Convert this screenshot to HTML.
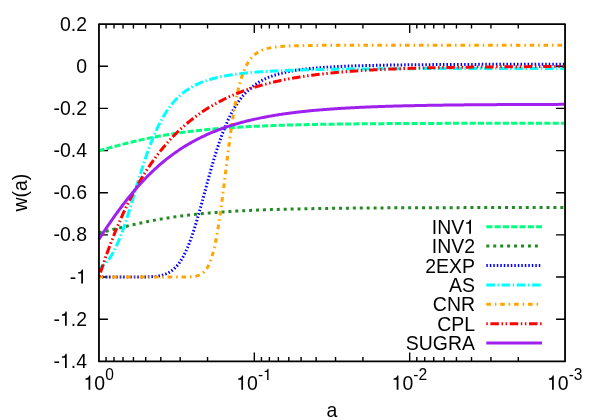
<!DOCTYPE html><html><head><meta charset="utf-8"><style>html,body{margin:0;padding:0;background:#fff;}svg{display:block;will-change:transform;}text{font-family:"Liberation Sans",sans-serif;fill:#000;font-kerning:none;}</style></head><body>
<svg width="598" height="420" viewBox="0 0 598 420">
<rect width="598" height="420" fill="#fff"/>
<path d="M98.95 66.26h9M565.05 66.26h-9M98.95 108.42h9M565.05 108.42h-9M98.95 150.59h9M565.05 150.59h-9M98.95 192.75h9M565.05 192.75h-9M98.95 234.91h9M565.05 234.91h-9M98.95 277.07h9M565.05 277.07h-9M98.95 319.24h9M565.05 319.24h-9M207.55 361.4v-4.5M207.55 24.1v4.5M180.19 361.4v-4.5M180.19 24.1v4.5M160.78 361.4v-4.5M160.78 24.1v4.5M145.72 361.4v-4.5M145.72 24.1v4.5M133.42 361.4v-4.5M133.42 24.1v4.5M123.02 361.4v-4.5M123.02 24.1v4.5M114.01 361.4v-4.5M114.01 24.1v4.5M106.06 361.4v-4.5M106.06 24.1v4.5M254.32 361.4v-9M254.32 24.1v9M362.91 361.4v-4.5M362.91 24.1v4.5M335.55 361.4v-4.5M335.55 24.1v4.5M316.14 361.4v-4.5M316.14 24.1v4.5M301.09 361.4v-4.5M301.09 24.1v4.5M288.78 361.4v-4.5M288.78 24.1v4.5M278.38 361.4v-4.5M278.38 24.1v4.5M269.37 361.4v-4.5M269.37 24.1v4.5M261.43 361.4v-4.5M261.43 24.1v4.5M409.68 361.4v-9M409.68 24.1v9M518.28 361.4v-4.5M518.28 24.1v4.5M490.92 361.4v-4.5M490.92 24.1v4.5M471.51 361.4v-4.5M471.51 24.1v4.5M456.45 361.4v-4.5M456.45 24.1v4.5M444.15 361.4v-4.5M444.15 24.1v4.5M433.75 361.4v-4.5M433.75 24.1v4.5M424.74 361.4v-4.5M424.74 24.1v4.5M416.79 361.4v-4.5M416.79 24.1v4.5" stroke="#000" stroke-width="1.4" fill="none"/>
<path d="M565.05 123.21L563.88 123.21L562.72 123.21L561.55 123.21L560.39 123.22L559.22 123.22L558.06 123.22L556.89 123.22L555.73 123.22L554.56 123.22L553.40 123.22L552.23 123.22L551.07 123.22L549.90 123.22L548.74 123.22L547.57 123.22L546.41 123.22L545.24 123.22L544.08 123.22L542.91 123.23L541.75 123.23L540.58 123.23L539.41 123.23L538.25 123.23L537.08 123.23L535.92 123.23L534.75 123.23L533.59 123.23L532.42 123.23L531.26 123.23L530.09 123.23L528.93 123.24L527.76 123.24L526.60 123.24L525.43 123.24L524.27 123.24L523.10 123.24L521.94 123.24L520.77 123.24L519.61 123.24L518.44 123.24L517.27 123.25L516.11 123.25L514.94 123.25L513.78 123.25L512.61 123.25L511.45 123.25L510.28 123.25L509.12 123.25L507.95 123.25L506.79 123.26L505.62 123.26L504.46 123.26L503.29 123.26L502.13 123.26L500.96 123.26L499.80 123.26L498.63 123.27L497.47 123.27L496.30 123.27L495.13 123.27L493.97 123.27L492.80 123.27L491.64 123.27L490.47 123.28L489.31 123.28L488.14 123.28L486.98 123.28L485.81 123.28L484.65 123.28L483.48 123.29L482.32 123.29L481.15 123.29L479.99 123.29L478.82 123.29L477.66 123.30L476.49 123.30L475.33 123.30L474.16 123.30L473.00 123.30L471.83 123.31L470.66 123.31L469.50 123.31L468.33 123.31L467.17 123.31L466.00 123.32L464.84 123.32L463.67 123.32L462.51 123.32L461.34 123.33L460.18 123.33L459.01 123.33L457.85 123.33L456.68 123.34L455.52 123.34L454.35 123.34L453.19 123.35L452.02 123.35L450.86 123.35L449.69 123.35L448.52 123.36L447.36 123.36L446.19 123.36L445.03 123.37L443.86 123.37L442.70 123.37L441.53 123.38L440.37 123.38L439.20 123.38L438.04 123.39L436.87 123.39L435.71 123.39L434.54 123.40L433.38 123.40L432.21 123.40L431.05 123.41L429.88 123.41L428.72 123.42L427.55 123.42L426.39 123.43L425.22 123.43L424.05 123.43L422.89 123.44L421.72 123.44L420.56 123.45L419.39 123.45L418.23 123.46L417.06 123.46L415.90 123.47L414.73 123.47L413.57 123.48L412.40 123.48L411.24 123.49L410.07 123.49L408.91 123.50L407.74 123.50L406.58 123.51L405.41 123.51L404.25 123.52L403.08 123.53L401.91 123.53L400.75 123.54L399.58 123.54L398.42 123.55L397.25 123.56L396.09 123.56L394.92 123.57L393.76 123.58L392.59 123.58L391.43 123.59L390.26 123.60L389.10 123.60L387.93 123.61L386.77 123.62L385.60 123.63L384.44 123.64L383.27 123.64L382.11 123.65L380.94 123.66L379.78 123.67L378.61 123.68L377.44 123.68L376.28 123.69L375.11 123.70L373.95 123.71L372.78 123.72L371.62 123.73L370.45 123.74L369.29 123.75L368.12 123.76L366.96 123.77L365.79 123.78L364.63 123.79L363.46 123.80L362.30 123.81L361.13 123.82L359.97 123.83L358.80 123.85L357.64 123.86L356.47 123.87L355.30 123.88L354.14 123.89L352.97 123.91L351.81 123.92L350.64 123.93L349.48 123.94L348.31 123.96L347.15 123.97L345.98 123.98L344.82 124.00L343.65 124.01L342.49 124.03L341.32 124.04L340.16 124.06L338.99 124.07L337.83 124.09L336.66 124.10L335.50 124.12L334.33 124.14L333.17 124.15L332.00 124.17L330.83 124.19L329.67 124.21L328.50 124.22L327.34 124.24L326.17 124.26L325.01 124.28L323.84 124.30L322.68 124.32L321.51 124.34L320.35 124.36L319.18 124.38L318.02 124.40L316.85 124.42L315.69 124.44L314.52 124.46L313.36 124.49L312.19 124.51L311.03 124.53L309.86 124.56L308.69 124.58L307.53 124.61L306.36 124.63L305.20 124.66L304.03 124.68L302.87 124.71L301.70 124.74L300.54 124.76L299.37 124.79L298.21 124.82L297.04 124.85L295.88 124.88L294.71 124.91L293.55 124.94L292.38 124.97L291.22 125.00L290.05 125.03L288.89 125.06L287.72 125.10L286.56 125.13L285.39 125.16L284.22 125.20L283.06 125.23L281.89 125.27L280.73 125.31L279.56 125.34L278.40 125.38L277.23 125.42L276.07 125.46L274.90 125.50L273.74 125.54L272.57 125.58L271.41 125.63L270.24 125.67L269.08 125.71L267.91 125.76L266.75 125.80L265.58 125.85L264.42 125.89L263.25 125.94L262.08 125.99L260.92 126.04L259.75 126.09L258.59 126.14L257.42 126.19L256.26 126.25L255.09 126.30L253.93 126.36L252.76 126.41L251.60 126.47L250.43 126.53L249.27 126.59L248.10 126.65L246.94 126.71L245.77 126.77L244.61 126.83L243.44 126.90L242.28 126.96L241.11 127.03L239.95 127.10L238.78 127.17L237.61 127.24L236.45 127.31L235.28 127.38L234.12 127.45L232.95 127.53L231.79 127.61L230.62 127.68L229.46 127.76L228.29 127.84L227.13 127.93L225.96 128.01L224.80 128.10L223.63 128.18L222.47 128.27L221.30 128.36L220.14 128.45L218.97 128.54L217.81 128.64L216.64 128.73L215.47 128.83L214.31 128.93L213.14 129.03L211.98 129.14L210.81 129.24L209.65 129.35L208.48 129.46L207.32 129.57L206.15 129.68L204.99 129.79L203.82 129.91L202.66 130.03L201.49 130.15L200.33 130.27L199.16 130.39L198.00 130.52L196.83 130.65L195.67 130.78L194.50 130.91L193.34 131.05L192.17 131.19L191.00 131.33L189.84 131.47L188.67 131.61L187.51 131.76L186.34 131.91L185.18 132.06L184.01 132.21L182.85 132.37L181.68 132.53L180.52 132.69L179.35 132.86L178.19 133.02L177.02 133.19L175.86 133.37L174.69 133.54L173.53 133.72L172.36 133.90L171.20 134.09L170.03 134.27L168.87 134.46L167.70 134.65L166.53 134.85L165.37 135.05L164.20 135.25L163.04 135.45L161.87 135.66L160.71 135.87L159.54 136.08L158.38 136.30L157.21 136.52L156.05 136.74L154.88 136.97L153.72 137.19L152.55 137.43L151.39 137.66L150.22 137.90L149.06 138.14L147.89 138.38L146.73 138.63L145.56 138.88L144.39 139.13L143.23 139.39L142.06 139.65L140.90 139.91L139.73 140.17L138.57 140.44L137.40 140.71L136.24 140.98L135.07 141.26L133.91 141.54L132.74 141.82L131.58 142.10L130.41 142.38L129.25 142.67L128.08 142.96L126.92 143.25L125.75 143.55L124.59 143.85L123.42 144.14L122.25 144.44L121.09 144.75L119.92 145.05L118.76 145.35L117.59 145.66L116.43 145.97L115.26 146.27L114.10 146.58L112.93 146.89L111.77 147.20L110.60 147.51L109.44 147.82L108.27 148.13L107.11 148.44L105.94 148.75L104.78 149.06L103.61 149.37L102.45 149.67L101.28 149.98L100.12 150.28L98.95 150.59" stroke="#00ff7f" stroke-width="3" fill="none" stroke-dasharray="6.1 2.2" stroke-dashoffset="1.95"/>
<path d="M486.3 226.70H542.0" stroke="#00ff7f" stroke-width="3" fill="none" stroke-dasharray="6.1 2.2"/>
<text transform="translate(431.74,233.85) scale(0.973,1)" font-size="20">INV<tspan visibility="hidden">1</tspan></text><path d="M470.97 233.85L469.22 233.85L469.22 223.75L466.13 223.75L466.13 222.53C468.77 222.21 469.28 221.73 469.82 219.67L470.97 219.67Z" fill="#000"/>
<path d="M565.05 207.53L563.88 207.53L562.72 207.53L561.55 207.53L560.39 207.54L559.22 207.54L558.06 207.54L556.89 207.54L555.73 207.54L554.56 207.54L553.40 207.54L552.23 207.54L551.07 207.54L549.90 207.54L548.74 207.54L547.57 207.54L546.41 207.54L545.24 207.54L544.08 207.54L542.91 207.54L541.75 207.54L540.58 207.54L539.41 207.55L538.25 207.55L537.08 207.55L535.92 207.55L534.75 207.55L533.59 207.55L532.42 207.55L531.26 207.55L530.09 207.55L528.93 207.55L527.76 207.55L526.60 207.55L525.43 207.55L524.27 207.56L523.10 207.56L521.94 207.56L520.77 207.56L519.61 207.56L518.44 207.56L517.27 207.56L516.11 207.56L514.94 207.56L513.78 207.56L512.61 207.56L511.45 207.57L510.28 207.57L509.12 207.57L507.95 207.57L506.79 207.57L505.62 207.57L504.46 207.57L503.29 207.57L502.13 207.57L500.96 207.57L499.80 207.58L498.63 207.58L497.47 207.58L496.30 207.58L495.13 207.58L493.97 207.58L492.80 207.58L491.64 207.59L490.47 207.59L489.31 207.59L488.14 207.59L486.98 207.59L485.81 207.59L484.65 207.59L483.48 207.60L482.32 207.60L481.15 207.60L479.99 207.60L478.82 207.60L477.66 207.60L476.49 207.60L475.33 207.61L474.16 207.61L473.00 207.61L471.83 207.61L470.66 207.61L469.50 207.62L468.33 207.62L467.17 207.62L466.00 207.62L464.84 207.62L463.67 207.63L462.51 207.63L461.34 207.63L460.18 207.63L459.01 207.63L457.85 207.64L456.68 207.64L455.52 207.64L454.35 207.64L453.19 207.65L452.02 207.65L450.86 207.65L449.69 207.65L448.52 207.66L447.36 207.66L446.19 207.66L445.03 207.66L443.86 207.67L442.70 207.67L441.53 207.67L440.37 207.67L439.20 207.68L438.04 207.68L436.87 207.68L435.71 207.69L434.54 207.69L433.38 207.69L432.21 207.70L431.05 207.70L429.88 207.70L428.72 207.71L427.55 207.71L426.39 207.71L425.22 207.72L424.05 207.72L422.89 207.72L421.72 207.73L420.56 207.73L419.39 207.74L418.23 207.74L417.06 207.74L415.90 207.75L414.73 207.75L413.57 207.76L412.40 207.76L411.24 207.76L410.07 207.77L408.91 207.77L407.74 207.78L406.58 207.78L405.41 207.79L404.25 207.79L403.08 207.80L401.91 207.80L400.75 207.81L399.58 207.81L398.42 207.82L397.25 207.82L396.09 207.83L394.92 207.84L393.76 207.84L392.59 207.85L391.43 207.85L390.26 207.86L389.10 207.87L387.93 207.87L386.77 207.88L385.60 207.88L384.44 207.89L383.27 207.90L382.11 207.91L380.94 207.91L379.78 207.92L378.61 207.93L377.44 207.93L376.28 207.94L375.11 207.95L373.95 207.96L372.78 207.96L371.62 207.97L370.45 207.98L369.29 207.99L368.12 208.00L366.96 208.01L365.79 208.01L364.63 208.02L363.46 208.03L362.30 208.04L361.13 208.05L359.97 208.06L358.80 208.07L357.64 208.08L356.47 208.09L355.30 208.10L354.14 208.11L352.97 208.12L351.81 208.13L350.64 208.14L349.48 208.16L348.31 208.17L347.15 208.18L345.98 208.19L344.82 208.20L343.65 208.21L342.49 208.23L341.32 208.24L340.16 208.25L338.99 208.27L337.83 208.28L336.66 208.29L335.50 208.31L334.33 208.32L333.17 208.33L332.00 208.35L330.83 208.36L329.67 208.38L328.50 208.39L327.34 208.41L326.17 208.43L325.01 208.44L323.84 208.46L322.68 208.48L321.51 208.49L320.35 208.51L319.18 208.53L318.02 208.55L316.85 208.56L315.69 208.58L314.52 208.60L313.36 208.62L312.19 208.64L311.03 208.66L309.86 208.68L308.69 208.70L307.53 208.72L306.36 208.75L305.20 208.77L304.03 208.79L302.87 208.81L301.70 208.84L300.54 208.86L299.37 208.88L298.21 208.91L297.04 208.93L295.88 208.96L294.71 208.98L293.55 209.01L292.38 209.04L291.22 209.06L290.05 209.09L288.89 209.12L287.72 209.15L286.56 209.18L285.39 209.21L284.22 209.24L283.06 209.27L281.89 209.30L280.73 209.33L279.56 209.37L278.40 209.40L277.23 209.43L276.07 209.47L274.90 209.50L273.74 209.54L272.57 209.58L271.41 209.61L270.24 209.65L269.08 209.69L267.91 209.73L266.75 209.77L265.58 209.81L264.42 209.85L263.25 209.89L262.08 209.93L260.92 209.98L259.75 210.02L258.59 210.07L257.42 210.11L256.26 210.16L255.09 210.21L253.93 210.26L252.76 210.31L251.60 210.36L250.43 210.41L249.27 210.46L248.10 210.51L246.94 210.57L245.77 210.62L244.61 210.68L243.44 210.74L242.28 210.80L241.11 210.86L239.95 210.92L238.78 210.98L237.61 211.04L236.45 211.10L235.28 211.17L234.12 211.24L232.95 211.30L231.79 211.37L230.62 211.44L229.46 211.52L228.29 211.59L227.13 211.66L225.96 211.74L224.80 211.82L223.63 211.89L222.47 211.97L221.30 212.05L220.14 212.14L218.97 212.22L217.81 212.31L216.64 212.40L215.47 212.48L214.31 212.58L213.14 212.67L211.98 212.76L210.81 212.86L209.65 212.96L208.48 213.06L207.32 213.16L206.15 213.26L204.99 213.37L203.82 213.47L202.66 213.58L201.49 213.69L200.33 213.81L199.16 213.92L198.00 214.04L196.83 214.16L195.67 214.28L194.50 214.40L193.34 214.53L192.17 214.66L191.00 214.79L189.84 214.92L188.67 215.06L187.51 215.19L186.34 215.33L185.18 215.48L184.01 215.62L182.85 215.77L181.68 215.92L180.52 216.07L179.35 216.23L178.19 216.39L177.02 216.55L175.86 216.71L174.69 216.88L173.53 217.05L172.36 217.22L171.20 217.39L170.03 217.57L168.87 217.75L167.70 217.93L166.53 218.12L165.37 218.31L164.20 218.50L163.04 218.70L161.87 218.90L160.71 219.10L159.54 219.30L158.38 219.51L157.21 219.72L156.05 219.93L154.88 220.15L153.72 220.37L152.55 220.59L151.39 220.82L150.22 221.05L149.06 221.28L147.89 221.51L146.73 221.75L145.56 221.99L144.39 222.23L143.23 222.48L142.06 222.73L140.90 222.98L139.73 223.23L138.57 223.49L137.40 223.75L136.24 224.01L135.07 224.27L133.91 224.54L132.74 224.80L131.58 225.07L130.41 225.35L129.25 225.62L128.08 225.89L126.92 226.17L125.75 226.45L124.59 226.73L123.42 227.01L122.25 227.29L121.09 227.57L119.92 227.85L118.76 228.14L117.59 228.42L116.43 228.70L115.26 228.98L114.10 229.27L112.93 229.55L111.77 229.83L110.60 230.11L109.44 230.39L108.27 230.67L107.11 230.94L105.94 231.21L104.78 231.49L103.61 231.76L102.45 232.02L101.28 232.29L100.12 232.55L98.95 232.80" stroke="#228b22" stroke-width="3" fill="none" stroke-dasharray="3 3.916" stroke-dashoffset="5.18"/>
<path d="M486.3 246.10H541.0" stroke="#228b22" stroke-width="3" fill="none" stroke-dasharray="3 3.94"/>
<text transform="translate(431.74,253.25) scale(0.973,1)" font-size="20">INV2</text>
<path d="M565.05 64.21L563.88 64.22L562.72 64.22L561.55 64.22L560.39 64.22L559.22 64.22L558.06 64.22L556.89 64.22L555.73 64.22L554.56 64.22L553.40 64.23L552.23 64.23L551.07 64.23L549.90 64.23L548.74 64.23L547.57 64.23L546.41 64.23L545.24 64.23L544.08 64.24L542.91 64.24L541.75 64.24L540.58 64.24L539.41 64.24L538.25 64.24L537.08 64.25L535.92 64.25L534.75 64.25L533.59 64.25L532.42 64.25L531.26 64.25L530.09 64.26L528.93 64.26L527.76 64.26L526.60 64.26L525.43 64.26L524.27 64.26L523.10 64.27L521.94 64.27L520.77 64.27L519.61 64.27L518.44 64.27L517.27 64.28L516.11 64.28L514.94 64.28L513.78 64.28L512.61 64.29L511.45 64.29L510.28 64.29L509.12 64.29L507.95 64.30L506.79 64.30L505.62 64.30L504.46 64.30L503.29 64.31L502.13 64.31L500.96 64.31L499.80 64.31L498.63 64.32L497.47 64.32L496.30 64.32L495.13 64.33L493.97 64.33L492.80 64.33L491.64 64.34L490.47 64.34L489.31 64.34L488.14 64.35L486.98 64.35L485.81 64.35L484.65 64.36L483.48 64.36L482.32 64.36L481.15 64.37L479.99 64.37L478.82 64.37L477.66 64.38L476.49 64.38L475.33 64.39L474.16 64.39L473.00 64.40L471.83 64.40L470.66 64.40L469.50 64.41L468.33 64.41L467.17 64.42L466.00 64.42L464.84 64.43L463.67 64.43L462.51 64.44L461.34 64.44L460.18 64.45L459.01 64.45L457.85 64.46L456.68 64.47L455.52 64.47L454.35 64.48L453.19 64.48L452.02 64.49L450.86 64.50L449.69 64.50L448.52 64.51L447.36 64.51L446.19 64.52L445.03 64.53L443.86 64.54L442.70 64.54L441.53 64.55L440.37 64.56L439.20 64.56L438.04 64.57L436.87 64.58L435.71 64.59L434.54 64.60L433.38 64.60L432.21 64.61L431.05 64.62L429.88 64.63L428.72 64.64L427.55 64.65L426.39 64.66L425.22 64.67L424.05 64.68L422.89 64.69L421.72 64.70L420.56 64.71L419.39 64.72L418.23 64.73L417.06 64.74L415.90 64.75L414.73 64.76L413.57 64.78L412.40 64.79L411.24 64.80L410.07 64.81L408.91 64.82L407.74 64.84L406.58 64.85L405.41 64.86L404.25 64.88L403.08 64.89L401.91 64.91L400.75 64.92L399.58 64.94L398.42 64.95L397.25 64.97L396.09 64.99L394.92 65.00L393.76 65.02L392.59 65.04L391.43 65.05L390.26 65.07L389.10 65.09L387.93 65.11L386.77 65.13L385.60 65.15L384.44 65.17L383.27 65.19L382.11 65.21L380.94 65.23L379.78 65.26L378.61 65.28L377.44 65.30L376.28 65.33L375.11 65.35L373.95 65.38L372.78 65.40L371.62 65.43L370.45 65.45L369.29 65.48L368.12 65.51L366.96 65.54L365.79 65.57L364.63 65.60L363.46 65.63L362.30 65.66L361.13 65.70L359.97 65.73L358.80 65.76L357.64 65.80L356.47 65.84L355.30 65.87L354.14 65.91L352.97 65.95L351.81 65.99L350.64 66.03L349.48 66.07L348.31 66.12L347.15 66.16L345.98 66.21L344.82 66.26L343.65 66.30L342.49 66.35L341.32 66.41L340.16 66.46L338.99 66.51L337.83 66.57L336.66 66.63L335.50 66.69L334.33 66.75L333.17 66.81L332.00 66.87L330.83 66.94L329.67 67.01L328.50 67.08L327.34 67.15L326.17 67.23L325.01 67.30L323.84 67.38L322.68 67.47L321.51 67.55L320.35 67.64L319.18 67.73L318.02 67.82L316.85 67.92L315.69 68.02L314.52 68.12L313.36 68.22L312.19 68.33L311.03 68.45L309.86 68.56L308.69 68.68L307.53 68.81L306.36 68.94L305.20 69.07L304.03 69.21L302.87 69.36L301.70 69.51L300.54 69.66L299.37 69.82L298.21 69.99L297.04 70.16L295.88 70.34L294.71 70.52L293.55 70.72L292.38 70.92L291.22 71.12L290.05 71.34L288.89 71.56L287.72 71.80L286.56 72.04L285.39 72.29L284.22 72.56L283.06 72.83L281.89 73.12L280.73 73.41L279.56 73.72L278.40 74.05L277.23 74.38L276.07 74.73L274.90 75.10L273.74 75.48L272.57 75.88L271.41 76.30L270.24 76.74L269.08 77.20L267.91 77.67L266.75 78.17L265.58 78.70L264.42 79.25L263.25 79.82L262.08 80.42L260.92 81.05L259.75 81.71L258.59 82.40L257.42 83.13L256.26 83.89L255.09 84.69L253.93 85.53L252.76 86.41L251.60 87.33L250.43 88.31L249.27 89.33L248.10 90.40L246.94 91.53L245.77 92.71L244.61 93.95L243.44 95.26L242.28 96.64L241.11 98.08L239.95 99.60L238.78 101.19L237.61 102.87L236.45 104.63L235.28 106.47L234.12 108.41L232.95 110.45L231.79 112.58L230.62 114.81L229.46 117.15L228.29 119.60L227.13 122.16L225.96 124.84L224.80 127.63L223.63 130.54L222.47 133.56L221.30 136.71L220.14 139.97L218.97 143.36L217.81 146.85L216.64 150.46L215.47 154.18L214.31 158.01L213.14 161.92L211.98 165.93L210.81 170.02L209.65 174.17L208.48 178.38L207.32 182.64L206.15 186.93L204.99 191.24L203.82 195.54L202.66 199.83L201.49 204.10L200.33 208.31L199.16 212.46L198.00 216.53L196.83 220.51L195.67 224.38L194.50 228.13L193.34 231.75L192.17 235.23L191.00 238.55L189.84 241.72L188.67 244.72L187.51 247.56L186.34 250.23L185.18 252.73L184.01 255.06L182.85 257.23L181.68 259.24L180.52 261.09L179.35 262.79L178.19 264.35L177.02 265.77L175.86 267.05L174.69 268.22L173.53 269.28L172.36 270.22L171.20 271.07L170.03 271.83L168.87 272.51L167.70 273.11L166.53 273.64L165.37 274.11L164.20 274.52L163.04 274.88L161.87 275.20L160.71 275.47L159.54 275.71L158.38 275.92L157.21 276.09L156.05 276.25L154.88 276.38L153.72 276.49L152.55 276.59L151.39 276.67L150.22 276.74L149.06 276.80L147.89 276.84L146.73 276.89L145.56 276.92L144.39 276.95L143.23 276.97L142.06 276.99L140.90 277.01L139.73 277.02L138.57 277.03L137.40 277.04L136.24 277.05L135.07 277.05L133.91 277.06L132.74 277.06L131.58 277.06L130.41 277.07L129.25 277.07L128.08 277.07L126.92 277.07L125.75 277.07L124.59 277.07L123.42 277.07L122.25 277.07L121.09 277.07L119.92 277.07L118.76 277.07L117.59 277.07L116.43 277.07L115.26 277.07L114.10 277.07L112.93 277.07L111.77 277.07L110.60 277.07L109.44 277.07L108.27 277.07L107.11 277.07L105.94 277.07L104.78 277.07L103.61 277.07L102.45 277.07L101.28 277.07L100.12 277.07L98.95 277.07" stroke="#0000ff" stroke-width="3" fill="none" stroke-dasharray="1.5 2.027" stroke-dashoffset="2.85"/>
<path d="M486.3 265.50H541.0" stroke="#0000ff" stroke-width="3" fill="none" stroke-dasharray="1.5 2"/>
<text transform="translate(425.24,272.65) scale(0.973,1)" font-size="20">2EXP</text>
<path d="M565.05 68.40L563.88 68.40L562.72 68.40L561.55 68.40L560.39 68.40L559.22 68.40L558.06 68.40L556.89 68.40L555.73 68.40L554.56 68.40L553.40 68.40L552.23 68.40L551.07 68.40L549.90 68.40L548.74 68.40L547.57 68.40L546.41 68.41L545.24 68.41L544.08 68.41L542.91 68.41L541.75 68.41L540.58 68.41L539.41 68.41L538.25 68.41L537.08 68.41L535.92 68.41L534.75 68.41L533.59 68.41L532.42 68.41L531.26 68.41L530.09 68.42L528.93 68.42L527.76 68.42L526.60 68.42L525.43 68.42L524.27 68.42L523.10 68.42L521.94 68.42L520.77 68.42L519.61 68.42L518.44 68.42L517.27 68.42L516.11 68.43L514.94 68.43L513.78 68.43L512.61 68.43L511.45 68.43L510.28 68.43L509.12 68.43L507.95 68.43L506.79 68.43L505.62 68.43L504.46 68.44L503.29 68.44L502.13 68.44L500.96 68.44L499.80 68.44L498.63 68.44L497.47 68.44L496.30 68.44L495.13 68.45L493.97 68.45L492.80 68.45L491.64 68.45L490.47 68.45L489.31 68.45L488.14 68.45L486.98 68.46L485.81 68.46L484.65 68.46L483.48 68.46L482.32 68.46L481.15 68.46L479.99 68.46L478.82 68.47L477.66 68.47L476.49 68.47L475.33 68.47L474.16 68.47L473.00 68.48L471.83 68.48L470.66 68.48L469.50 68.48L468.33 68.48L467.17 68.49L466.00 68.49L464.84 68.49L463.67 68.49L462.51 68.49L461.34 68.50L460.18 68.50L459.01 68.50L457.85 68.50L456.68 68.50L455.52 68.51L454.35 68.51L453.19 68.51L452.02 68.51L450.86 68.52L449.69 68.52L448.52 68.52L447.36 68.52L446.19 68.53L445.03 68.53L443.86 68.53L442.70 68.54L441.53 68.54L440.37 68.54L439.20 68.55L438.04 68.55L436.87 68.55L435.71 68.55L434.54 68.56L433.38 68.56L432.21 68.56L431.05 68.57L429.88 68.57L428.72 68.58L427.55 68.58L426.39 68.58L425.22 68.59L424.05 68.59L422.89 68.59L421.72 68.60L420.56 68.60L419.39 68.61L418.23 68.61L417.06 68.62L415.90 68.62L414.73 68.62L413.57 68.63L412.40 68.63L411.24 68.64L410.07 68.64L408.91 68.65L407.74 68.65L406.58 68.66L405.41 68.66L404.25 68.67L403.08 68.67L401.91 68.68L400.75 68.69L399.58 68.69L398.42 68.70L397.25 68.70L396.09 68.71L394.92 68.71L393.76 68.72L392.59 68.73L391.43 68.73L390.26 68.74L389.10 68.75L387.93 68.75L386.77 68.76L385.60 68.77L384.44 68.78L383.27 68.78L382.11 68.79L380.94 68.80L379.78 68.81L378.61 68.81L377.44 68.82L376.28 68.83L375.11 68.84L373.95 68.85L372.78 68.86L371.62 68.87L370.45 68.88L369.29 68.88L368.12 68.89L366.96 68.90L365.79 68.91L364.63 68.92L363.46 68.93L362.30 68.95L361.13 68.96L359.97 68.97L358.80 68.98L357.64 68.99L356.47 69.00L355.30 69.01L354.14 69.03L352.97 69.04L351.81 69.05L350.64 69.06L349.48 69.08L348.31 69.09L347.15 69.10L345.98 69.12L344.82 69.13L343.65 69.15L342.49 69.16L341.32 69.18L340.16 69.19L338.99 69.21L337.83 69.22L336.66 69.24L335.50 69.26L334.33 69.28L333.17 69.29L332.00 69.31L330.83 69.33L329.67 69.35L328.50 69.37L327.34 69.39L326.17 69.41L325.01 69.43L323.84 69.45L322.68 69.47L321.51 69.49L320.35 69.51L319.18 69.54L318.02 69.56L316.85 69.58L315.69 69.61L314.52 69.63L313.36 69.66L312.19 69.69L311.03 69.71L309.86 69.74L308.69 69.77L307.53 69.80L306.36 69.83L305.20 69.86L304.03 69.89L302.87 69.92L301.70 69.95L300.54 69.98L299.37 70.02L298.21 70.05L297.04 70.09L295.88 70.12L294.71 70.16L293.55 70.20L292.38 70.24L291.22 70.28L290.05 70.32L288.89 70.36L287.72 70.40L286.56 70.45L285.39 70.49L284.22 70.54L283.06 70.59L281.89 70.63L280.73 70.68L279.56 70.74L278.40 70.79L277.23 70.84L276.07 70.90L274.90 70.96L273.74 71.01L272.57 71.07L271.41 71.14L270.24 71.20L269.08 71.26L267.91 71.33L266.75 71.40L265.58 71.47L264.42 71.54L263.25 71.62L262.08 71.70L260.92 71.77L259.75 71.86L258.59 71.94L257.42 72.03L256.26 72.12L255.09 72.21L253.93 72.30L252.76 72.40L251.60 72.50L250.43 72.60L249.27 72.71L248.10 72.82L246.94 72.93L245.77 73.05L244.61 73.17L243.44 73.29L242.28 73.42L241.11 73.55L239.95 73.69L238.78 73.83L237.61 73.97L236.45 74.12L235.28 74.28L234.12 74.44L232.95 74.61L231.79 74.78L230.62 74.96L229.46 75.14L228.29 75.33L227.13 75.53L225.96 75.73L224.80 75.94L223.63 76.16L222.47 76.39L221.30 76.63L220.14 76.87L218.97 77.13L217.81 77.39L216.64 77.66L215.47 77.95L214.31 78.24L213.14 78.55L211.98 78.87L210.81 79.20L209.65 79.54L208.48 79.90L207.32 80.27L206.15 80.66L204.99 81.06L203.82 81.49L202.66 81.92L201.49 82.38L200.33 82.86L199.16 83.35L198.00 83.87L196.83 84.41L195.67 84.97L194.50 85.56L193.34 86.17L192.17 86.82L191.00 87.49L189.84 88.19L188.67 88.92L187.51 89.68L186.34 90.48L185.18 91.32L184.01 92.19L182.85 93.11L181.68 94.06L180.52 95.06L179.35 96.11L178.19 97.21L177.02 98.36L175.86 99.56L174.69 100.82L173.53 102.13L172.36 103.51L171.20 104.95L170.03 106.46L168.87 108.04L167.70 109.69L166.53 111.42L165.37 113.22L164.20 115.11L163.04 117.08L161.87 119.14L160.71 121.28L159.54 123.52L158.38 125.85L157.21 128.28L156.05 130.80L154.88 133.43L153.72 136.15L152.55 138.97L151.39 141.89L150.22 144.92L149.06 148.04L147.89 151.25L146.73 154.56L145.56 157.96L144.39 161.44L143.23 165.00L142.06 168.63L140.90 172.33L139.73 176.09L138.57 179.89L137.40 183.73L136.24 187.60L135.07 191.49L133.91 195.38L132.74 199.26L131.58 203.11L130.41 206.94L129.25 210.71L128.08 214.43L126.92 218.07L125.75 221.63L124.59 225.09L123.42 228.45L122.25 231.69L121.09 234.81L119.92 237.80L118.76 240.65L117.59 243.37L116.43 245.94L115.26 248.37L114.10 250.65L112.93 252.79L111.77 254.79L110.60 256.65L109.44 258.37L108.27 259.96L107.11 261.43L105.94 262.77L104.78 264.00L103.61 265.12L102.45 266.14L101.28 267.06L100.12 267.89L98.95 268.64" stroke="#00ffff" stroke-width="3" fill="none" stroke-dasharray="8.75 2.6 1.4 2.54" stroke-dashoffset="3.85"/>
<path d="M486.3 284.90H541.0" stroke="#00ffff" stroke-width="3" fill="none" stroke-dasharray="8.7 2.55 1.4 2.55"/>
<text transform="translate(449.04,292.05) scale(0.973,1)" font-size="20">AS</text>
<path d="M565.05 45.18L563.88 45.18L562.72 45.18L561.55 45.18L560.39 45.18L559.22 45.18L558.06 45.18L556.89 45.18L555.73 45.18L554.56 45.18L553.40 45.18L552.23 45.18L551.07 45.18L549.90 45.18L548.74 45.18L547.57 45.18L546.41 45.18L545.24 45.18L544.08 45.18L542.91 45.18L541.75 45.18L540.58 45.18L539.41 45.18L538.25 45.18L537.08 45.18L535.92 45.18L534.75 45.18L533.59 45.18L532.42 45.18L531.26 45.18L530.09 45.18L528.93 45.18L527.76 45.18L526.60 45.18L525.43 45.18L524.27 45.18L523.10 45.18L521.94 45.18L520.77 45.18L519.61 45.18L518.44 45.18L517.27 45.18L516.11 45.18L514.94 45.18L513.78 45.18L512.61 45.18L511.45 45.18L510.28 45.18L509.12 45.18L507.95 45.18L506.79 45.18L505.62 45.18L504.46 45.18L503.29 45.18L502.13 45.18L500.96 45.18L499.80 45.18L498.63 45.18L497.47 45.18L496.30 45.18L495.13 45.19L493.97 45.19L492.80 45.19L491.64 45.19L490.47 45.19L489.31 45.19L488.14 45.19L486.98 45.19L485.81 45.19L484.65 45.19L483.48 45.19L482.32 45.19L481.15 45.19L479.99 45.19L478.82 45.19L477.66 45.19L476.49 45.19L475.33 45.19L474.16 45.19L473.00 45.19L471.83 45.19L470.66 45.19L469.50 45.19L468.33 45.19L467.17 45.19L466.00 45.19L464.84 45.19L463.67 45.19L462.51 45.19L461.34 45.19L460.18 45.19L459.01 45.19L457.85 45.19L456.68 45.19L455.52 45.19L454.35 45.19L453.19 45.19L452.02 45.19L450.86 45.19L449.69 45.19L448.52 45.19L447.36 45.19L446.19 45.19L445.03 45.19L443.86 45.19L442.70 45.19L441.53 45.19L440.37 45.19L439.20 45.19L438.04 45.19L436.87 45.19L435.71 45.19L434.54 45.19L433.38 45.19L432.21 45.19L431.05 45.19L429.88 45.19L428.72 45.19L427.55 45.19L426.39 45.19L425.22 45.19L424.05 45.19L422.89 45.19L421.72 45.19L420.56 45.20L419.39 45.20L418.23 45.20L417.06 45.20L415.90 45.20L414.73 45.20L413.57 45.20L412.40 45.20L411.24 45.20L410.07 45.20L408.91 45.20L407.74 45.20L406.58 45.20L405.41 45.20L404.25 45.20L403.08 45.20L401.91 45.20L400.75 45.20L399.58 45.20L398.42 45.20L397.25 45.20L396.09 45.20L394.92 45.20L393.76 45.20L392.59 45.21L391.43 45.21L390.26 45.21L389.10 45.21L387.93 45.21L386.77 45.21L385.60 45.21L384.44 45.21L383.27 45.21L382.11 45.21L380.94 45.21L379.78 45.21L378.61 45.21L377.44 45.22L376.28 45.22L375.11 45.22L373.95 45.22L372.78 45.22L371.62 45.22L370.45 45.22L369.29 45.22L368.12 45.22L366.96 45.23L365.79 45.23L364.63 45.23L363.46 45.23L362.30 45.23L361.13 45.23L359.97 45.23L358.80 45.24L357.64 45.24L356.47 45.24L355.30 45.24L354.14 45.24L352.97 45.25L351.81 45.25L350.64 45.25L349.48 45.25L348.31 45.25L347.15 45.26L345.98 45.26L344.82 45.26L343.65 45.27L342.49 45.27L341.32 45.27L340.16 45.27L338.99 45.28L337.83 45.28L336.66 45.29L335.50 45.29L334.33 45.29L333.17 45.30L332.00 45.30L330.83 45.31L329.67 45.31L328.50 45.32L327.34 45.32L326.17 45.33L325.01 45.34L323.84 45.34L322.68 45.35L321.51 45.36L320.35 45.37L319.18 45.38L318.02 45.39L316.85 45.39L315.69 45.41L314.52 45.42L313.36 45.43L312.19 45.44L311.03 45.45L309.86 45.47L308.69 45.48L307.53 45.50L306.36 45.51L305.20 45.53L304.03 45.55L302.87 45.57L301.70 45.60L300.54 45.62L299.37 45.65L298.21 45.67L297.04 45.70L295.88 45.74L294.71 45.77L293.55 45.81L292.38 45.85L291.22 45.89L290.05 45.94L288.89 45.99L287.72 46.05L286.56 46.11L285.39 46.17L284.22 46.24L283.06 46.32L281.89 46.41L280.73 46.50L279.56 46.60L278.40 46.71L277.23 46.83L276.07 46.97L274.90 47.11L273.74 47.28L272.57 47.45L271.41 47.65L270.24 47.87L269.08 48.11L267.91 48.37L266.75 48.67L265.58 49.00L264.42 49.36L263.25 49.76L262.08 50.21L260.92 50.72L259.75 51.28L258.59 51.90L257.42 52.61L256.26 53.39L255.09 54.27L253.93 55.27L252.76 56.38L251.60 57.63L250.43 59.04L249.27 60.62L248.10 62.40L246.94 64.40L245.77 66.66L244.61 69.19L243.44 72.04L242.28 75.23L241.11 78.80L239.95 82.79L238.78 87.24L237.61 92.16L236.45 97.61L235.28 103.59L234.12 110.12L232.95 117.20L231.79 124.83L230.62 132.95L229.46 141.54L228.29 150.50L227.13 159.75L225.96 169.19L224.80 178.67L223.63 188.08L222.47 197.28L221.30 206.16L220.14 214.59L218.97 222.48L217.81 229.78L216.64 236.44L215.47 242.43L214.31 247.75L213.14 252.44L211.98 256.52L210.81 260.03L209.65 263.03L208.48 265.57L207.32 267.70L206.15 269.48L204.99 270.96L203.82 272.17L202.66 273.16L201.49 273.97L200.33 274.62L199.16 275.14L198.00 275.56L196.83 275.90L195.67 276.16L194.50 276.37L193.34 276.53L192.17 276.66L191.00 276.76L189.84 276.84L188.67 276.89L187.51 276.94L186.34 276.97L185.18 277.00L184.01 277.02L182.85 277.03L181.68 277.05L180.52 277.05L179.35 277.06L178.19 277.06L177.02 277.07L175.86 277.07L174.69 277.07L173.53 277.07L172.36 277.07L171.20 277.07L170.03 277.07L168.87 277.07L167.70 277.07L166.53 277.07L165.37 277.07L164.20 277.07L163.04 277.07L161.87 277.07L160.71 277.07L159.54 277.07L158.38 277.07L157.21 277.07L156.05 277.07L154.88 277.07L153.72 277.07L152.55 277.07L151.39 277.07L150.22 277.07L149.06 277.07L147.89 277.07L146.73 277.07L145.56 277.07L144.39 277.07L143.23 277.07L142.06 277.07L140.90 277.07L139.73 277.07L138.57 277.07L137.40 277.07L136.24 277.07L135.07 277.07L133.91 277.07L132.74 277.07L131.58 277.07L130.41 277.07L129.25 277.07L128.08 277.07L126.92 277.07L125.75 277.07L124.59 277.07L123.42 277.07L122.25 277.07L121.09 277.07L119.92 277.07L118.76 277.07L117.59 277.07L116.43 277.07L115.26 277.07L114.10 277.07L112.93 277.07L111.77 277.07L110.60 277.07L109.44 277.07L108.27 277.07L107.11 277.07L105.94 277.07L104.78 277.07L103.61 277.07L102.45 277.07L101.28 277.07L100.12 277.07L98.95 277.07" stroke="#ffa500" stroke-width="3" fill="none" stroke-dasharray="4.6 3.8 1.6 3.85" stroke-dashoffset="10.76"/>
<path d="M486.3 304.30H541.5" stroke="#ffa500" stroke-width="3" fill="none" stroke-dasharray="4.6 3.9 1.6 3.8"/>
<text transform="translate(432.85,311.45) scale(0.973,1)" font-size="20">CNR</text>
<path d="M565.05 66.47L563.88 66.48L562.72 66.48L561.55 66.48L560.39 66.49L559.22 66.49L558.06 66.50L556.89 66.50L555.73 66.50L554.56 66.51L553.40 66.51L552.23 66.52L551.07 66.52L549.90 66.53L548.74 66.53L547.57 66.54L546.41 66.54L545.24 66.55L544.08 66.55L542.91 66.56L541.75 66.56L540.58 66.57L539.41 66.57L538.25 66.58L537.08 66.58L535.92 66.59L534.75 66.59L533.59 66.60L532.42 66.60L531.26 66.61L530.09 66.62L528.93 66.62L527.76 66.63L526.60 66.64L525.43 66.64L524.27 66.65L523.10 66.66L521.94 66.66L520.77 66.67L519.61 66.68L518.44 66.68L517.27 66.69L516.11 66.70L514.94 66.71L513.78 66.71L512.61 66.72L511.45 66.73L510.28 66.74L509.12 66.75L507.95 66.75L506.79 66.76L505.62 66.77L504.46 66.78L503.29 66.79L502.13 66.80L500.96 66.81L499.80 66.82L498.63 66.83L497.47 66.84L496.30 66.85L495.13 66.86L493.97 66.87L492.80 66.88L491.64 66.89L490.47 66.90L489.31 66.91L488.14 66.92L486.98 66.93L485.81 66.94L484.65 66.96L483.48 66.97L482.32 66.98L481.15 66.99L479.99 67.01L478.82 67.02L477.66 67.03L476.49 67.05L475.33 67.06L474.16 67.07L473.00 67.09L471.83 67.10L470.66 67.12L469.50 67.13L468.33 67.15L467.17 67.16L466.00 67.18L464.84 67.19L463.67 67.21L462.51 67.23L461.34 67.24L460.18 67.26L459.01 67.28L457.85 67.30L456.68 67.31L455.52 67.33L454.35 67.35L453.19 67.37L452.02 67.39L450.86 67.41L449.69 67.43L448.52 67.45L447.36 67.47L446.19 67.49L445.03 67.51L443.86 67.53L442.70 67.55L441.53 67.58L440.37 67.60L439.20 67.62L438.04 67.65L436.87 67.67L435.71 67.70L434.54 67.72L433.38 67.75L432.21 67.77L431.05 67.80L429.88 67.83L428.72 67.85L427.55 67.88L426.39 67.91L425.22 67.94L424.05 67.97L422.89 68.00L421.72 68.03L420.56 68.06L419.39 68.09L418.23 68.12L417.06 68.15L415.90 68.19L414.73 68.22L413.57 68.25L412.40 68.29L411.24 68.32L410.07 68.36L408.91 68.40L407.74 68.43L406.58 68.47L405.41 68.51L404.25 68.55L403.08 68.59L401.91 68.63L400.75 68.67L399.58 68.71L398.42 68.75L397.25 68.80L396.09 68.84L394.92 68.89L393.76 68.93L392.59 68.98L391.43 69.03L390.26 69.07L389.10 69.12L387.93 69.17L386.77 69.22L385.60 69.27L384.44 69.33L383.27 69.38L382.11 69.43L380.94 69.49L379.78 69.55L378.61 69.60L377.44 69.66L376.28 69.72L375.11 69.78L373.95 69.84L372.78 69.90L371.62 69.97L370.45 70.03L369.29 70.10L368.12 70.17L366.96 70.23L365.79 70.30L364.63 70.37L363.46 70.44L362.30 70.52L361.13 70.59L359.97 70.67L358.80 70.74L357.64 70.82L356.47 70.90L355.30 70.98L354.14 71.06L352.97 71.15L351.81 71.23L350.64 71.32L349.48 71.41L348.31 71.50L347.15 71.59L345.98 71.68L344.82 71.78L343.65 71.87L342.49 71.97L341.32 72.07L340.16 72.17L338.99 72.27L337.83 72.38L336.66 72.48L335.50 72.59L334.33 72.70L333.17 72.81L332.00 72.93L330.83 73.05L329.67 73.16L328.50 73.28L327.34 73.41L326.17 73.53L325.01 73.66L323.84 73.79L322.68 73.92L321.51 74.05L320.35 74.19L319.18 74.32L318.02 74.46L316.85 74.61L315.69 74.75L314.52 74.90L313.36 75.05L312.19 75.20L311.03 75.36L309.86 75.52L308.69 75.68L307.53 75.84L306.36 76.01L305.20 76.18L304.03 76.35L302.87 76.53L301.70 76.71L300.54 76.89L299.37 77.07L298.21 77.26L297.04 77.45L295.88 77.65L294.71 77.85L293.55 78.05L292.38 78.25L291.22 78.46L290.05 78.68L288.89 78.89L287.72 79.11L286.56 79.34L285.39 79.56L284.22 79.80L283.06 80.03L281.89 80.27L280.73 80.52L279.56 80.76L278.40 81.02L277.23 81.27L276.07 81.53L274.90 81.80L273.74 82.07L272.57 82.35L271.41 82.63L270.24 82.91L269.08 83.20L267.91 83.50L266.75 83.80L265.58 84.10L264.42 84.41L263.25 84.73L262.08 85.05L260.92 85.38L259.75 85.71L258.59 86.05L257.42 86.39L256.26 86.75L255.09 87.10L253.93 87.47L252.76 87.83L251.60 88.21L250.43 88.59L249.27 88.98L248.10 89.38L246.94 89.78L245.77 90.19L244.61 90.61L243.44 91.03L242.28 91.46L241.11 91.90L239.95 92.35L238.78 92.80L237.61 93.26L236.45 93.73L235.28 94.21L234.12 94.70L232.95 95.20L231.79 95.70L230.62 96.21L229.46 96.73L228.29 97.26L227.13 97.81L225.96 98.35L224.80 98.91L223.63 99.48L222.47 100.06L221.30 100.65L220.14 101.25L218.97 101.86L217.81 102.48L216.64 103.11L215.47 103.75L214.31 104.40L213.14 105.07L211.98 105.74L210.81 106.43L209.65 107.13L208.48 107.84L207.32 108.57L206.15 109.30L204.99 110.05L203.82 110.82L202.66 111.59L201.49 112.38L200.33 113.19L199.16 114.00L198.00 114.84L196.83 115.68L195.67 116.54L194.50 117.42L193.34 118.31L192.17 119.22L191.00 120.14L189.84 121.08L188.67 122.03L187.51 123.00L186.34 123.99L185.18 125.00L184.01 126.02L182.85 127.06L181.68 128.12L180.52 129.20L179.35 130.29L178.19 131.41L177.02 132.54L175.86 133.70L174.69 134.87L173.53 136.07L172.36 137.29L171.20 138.52L170.03 139.78L168.87 141.06L167.70 142.36L166.53 143.69L165.37 145.04L164.20 146.41L163.04 147.81L161.87 149.23L160.71 150.67L159.54 152.14L158.38 153.64L157.21 155.16L156.05 156.71L154.88 158.29L153.72 159.89L152.55 161.52L151.39 163.18L150.22 164.87L149.06 166.58L147.89 168.33L146.73 170.11L145.56 171.92L144.39 173.76L143.23 175.63L142.06 177.54L140.90 179.48L139.73 181.45L138.57 183.45L137.40 185.50L136.24 187.57L135.07 189.69L133.91 191.84L132.74 194.02L131.58 196.25L130.41 198.51L129.25 200.82L128.08 203.16L126.92 205.54L125.75 207.97L124.59 210.44L123.42 212.95L122.25 215.51L121.09 218.11L119.92 220.75L118.76 223.44L117.59 226.18L116.43 228.97L115.26 231.80L114.10 234.68L112.93 237.62L111.77 240.60L110.60 243.64L109.44 246.73L108.27 249.87L107.11 253.07L105.94 256.32L104.78 259.64L103.61 263.00L102.45 266.43L101.28 269.92L100.12 273.47L98.95 277.07" stroke="#ff0000" stroke-width="3" fill="none" stroke-dasharray="8.5 2.62 1.5 2.61 1.5 2.62" stroke-dashoffset="5.9"/>
<path d="M486.3 323.70H541.8" stroke="#ff0000" stroke-width="3" fill="none" stroke-dasharray="1.5 2.6 8.5 2.6 1.5 2.6"/>
<text transform="translate(437.15,330.85) scale(0.973,1)" font-size="20">CPL</text>
<path d="M565.05 104.36L563.88 104.36L562.72 104.36L561.55 104.37L560.39 104.37L559.22 104.37L558.06 104.38L556.89 104.38L555.73 104.38L554.56 104.38L553.40 104.39L552.23 104.39L551.07 104.39L549.90 104.40L548.74 104.40L547.57 104.40L546.41 104.41L545.24 104.41L544.08 104.41L542.91 104.42L541.75 104.42L540.58 104.42L539.41 104.43L538.25 104.43L537.08 104.44L535.92 104.44L534.75 104.44L533.59 104.45L532.42 104.45L531.26 104.46L530.09 104.46L528.93 104.47L527.76 104.47L526.60 104.47L525.43 104.48L524.27 104.48L523.10 104.49L521.94 104.49L520.77 104.50L519.61 104.50L518.44 104.51L517.27 104.51L516.11 104.52L514.94 104.52L513.78 104.53L512.61 104.54L511.45 104.54L510.28 104.55L509.12 104.55L507.95 104.56L506.79 104.57L505.62 104.57L504.46 104.58L503.29 104.58L502.13 104.59L500.96 104.60L499.80 104.60L498.63 104.61L497.47 104.62L496.30 104.63L495.13 104.63L493.97 104.64L492.80 104.65L491.64 104.65L490.47 104.66L489.31 104.67L488.14 104.68L486.98 104.69L485.81 104.70L484.65 104.70L483.48 104.71L482.32 104.72L481.15 104.73L479.99 104.74L478.82 104.75L477.66 104.76L476.49 104.77L475.33 104.78L474.16 104.79L473.00 104.80L471.83 104.81L470.66 104.82L469.50 104.83L468.33 104.84L467.17 104.85L466.00 104.86L464.84 104.87L463.67 104.88L462.51 104.90L461.34 104.91L460.18 104.92L459.01 104.93L457.85 104.94L456.68 104.96L455.52 104.97L454.35 104.98L453.19 105.00L452.02 105.01L450.86 105.03L449.69 105.04L448.52 105.05L447.36 105.07L446.19 105.08L445.03 105.10L443.86 105.11L442.70 105.13L441.53 105.15L440.37 105.16L439.20 105.18L438.04 105.20L436.87 105.21L435.71 105.23L434.54 105.25L433.38 105.27L432.21 105.29L431.05 105.30L429.88 105.32L428.72 105.34L427.55 105.36L426.39 105.38L425.22 105.40L424.05 105.42L422.89 105.44L421.72 105.47L420.56 105.49L419.39 105.51L418.23 105.53L417.06 105.56L415.90 105.58L414.73 105.60L413.57 105.63L412.40 105.65L411.24 105.68L410.07 105.70L408.91 105.73L407.74 105.76L406.58 105.78L405.41 105.81L404.25 105.84L403.08 105.87L401.91 105.90L400.75 105.92L399.58 105.95L398.42 105.99L397.25 106.02L396.09 106.05L394.92 106.08L393.76 106.11L392.59 106.15L391.43 106.18L390.26 106.21L389.10 106.25L387.93 106.28L386.77 106.32L385.60 106.36L384.44 106.39L383.27 106.43L382.11 106.47L380.94 106.51L379.78 106.55L378.61 106.59L377.44 106.63L376.28 106.68L375.11 106.72L373.95 106.76L372.78 106.81L371.62 106.85L370.45 106.90L369.29 106.95L368.12 106.99L366.96 107.04L365.79 107.09L364.63 107.14L363.46 107.19L362.30 107.24L361.13 107.30L359.97 107.35L358.80 107.41L357.64 107.46L356.47 107.52L355.30 107.58L354.14 107.63L352.97 107.69L351.81 107.76L350.64 107.82L349.48 107.88L348.31 107.94L347.15 108.01L345.98 108.08L344.82 108.14L343.65 108.21L342.49 108.28L341.32 108.35L340.16 108.42L338.99 108.50L337.83 108.57L336.66 108.65L335.50 108.73L334.33 108.81L333.17 108.89L332.00 108.97L330.83 109.05L329.67 109.13L328.50 109.22L327.34 109.31L326.17 109.40L325.01 109.49L323.84 109.58L322.68 109.67L321.51 109.77L320.35 109.87L319.18 109.96L318.02 110.06L316.85 110.17L315.69 110.27L314.52 110.38L313.36 110.48L312.19 110.59L311.03 110.70L309.86 110.82L308.69 110.93L307.53 111.05L306.36 111.17L305.20 111.29L304.03 111.41L302.87 111.54L301.70 111.67L300.54 111.80L299.37 111.93L298.21 112.07L297.04 112.20L295.88 112.34L294.71 112.48L293.55 112.63L292.38 112.78L291.22 112.93L290.05 113.08L288.89 113.23L287.72 113.39L286.56 113.55L285.39 113.71L284.22 113.88L283.06 114.05L281.89 114.22L280.73 114.39L279.56 114.57L278.40 114.75L277.23 114.94L276.07 115.12L274.90 115.31L273.74 115.51L272.57 115.71L271.41 115.91L270.24 116.11L269.08 116.32L267.91 116.53L266.75 116.74L265.58 116.96L264.42 117.19L263.25 117.41L262.08 117.64L260.92 117.88L259.75 118.12L258.59 118.36L257.42 118.61L256.26 118.86L255.09 119.11L253.93 119.37L252.76 119.64L251.60 119.91L250.43 120.18L249.27 120.46L248.10 120.74L246.94 121.03L245.77 121.32L244.61 121.62L243.44 121.93L242.28 122.23L241.11 122.55L239.95 122.87L238.78 123.19L237.61 123.53L236.45 123.86L235.28 124.21L234.12 124.55L232.95 124.91L231.79 125.27L230.62 125.64L229.46 126.01L228.29 126.39L227.13 126.78L225.96 127.17L224.80 127.57L223.63 127.98L222.47 128.39L221.30 128.81L220.14 129.24L218.97 129.67L217.81 130.12L216.64 130.57L215.47 131.03L214.31 131.49L213.14 131.97L211.98 132.45L210.81 132.94L209.65 133.44L208.48 133.95L207.32 134.46L206.15 134.99L204.99 135.52L203.82 136.07L202.66 136.62L201.49 137.18L200.33 137.75L199.16 138.33L198.00 138.92L196.83 139.52L195.67 140.13L194.50 140.75L193.34 141.39L192.17 142.03L191.00 142.68L189.84 143.35L188.67 144.02L187.51 144.71L186.34 145.40L185.18 146.11L184.01 146.83L182.85 147.57L181.68 148.31L180.52 149.07L179.35 149.84L178.19 150.62L177.02 151.41L175.86 152.22L174.69 153.04L173.53 153.88L172.36 154.72L171.20 155.58L170.03 156.46L168.87 157.35L167.70 158.25L166.53 159.17L165.37 160.10L164.20 161.04L163.04 162.00L161.87 162.98L160.71 163.97L159.54 164.97L158.38 165.99L157.21 167.03L156.05 168.08L154.88 169.15L153.72 170.23L152.55 171.33L151.39 172.44L150.22 173.58L149.06 174.72L147.89 175.89L146.73 177.07L145.56 178.27L144.39 179.48L143.23 180.71L142.06 181.96L140.90 183.22L139.73 184.50L138.57 185.80L137.40 187.11L136.24 188.45L135.07 189.79L133.91 191.16L132.74 192.54L131.58 193.94L130.41 195.36L129.25 196.79L128.08 198.24L126.92 199.70L125.75 201.19L124.59 202.68L123.42 204.20L122.25 205.73L121.09 207.27L119.92 208.83L118.76 210.41L117.59 212.00L116.43 213.61L115.26 215.23L114.10 216.86L112.93 218.50L111.77 220.16L110.60 221.84L109.44 223.52L108.27 225.22L107.11 226.92L105.94 228.64L104.78 230.37L103.61 232.10L102.45 233.85L101.28 235.60L100.12 237.36L98.95 239.13" stroke="#a020f0" stroke-width="3" fill="none"/>
<path d="M486.3 343.10H542.0" stroke="#a020f0" stroke-width="3" fill="none"/>
<text transform="translate(405.80,350.25) scale(0.973,1)" font-size="20">SUGRA</text>
<rect x="98.95" y="24.1" width="466.09999999999997" height="337.29999999999995" fill="none" stroke="#000" stroke-width="1.8" stroke-linejoin="round"/>
<text transform="translate(59.95,30.60) scale(0.973,1)" font-size="20">0.2</text>
<text transform="translate(76.18,72.76) scale(0.973,1)" font-size="20">0</text>
<text transform="translate(53.47,114.92) scale(0.973,1)" font-size="20">-0.2</text>
<text transform="translate(53.47,157.09) scale(0.973,1)" font-size="20">-0.4</text>
<text transform="translate(53.47,199.25) scale(0.973,1)" font-size="20">-0.6</text>
<text transform="translate(53.47,241.41) scale(0.973,1)" font-size="20">-0.8</text>
<text transform="translate(69.70,283.57) scale(0.973,1)" font-size="20">-<tspan visibility="hidden">1</tspan></text><path d="M82.97 283.57L81.22 283.57L81.22 273.47L78.13 273.47L78.13 272.25C80.77 271.94 81.28 271.45 81.82 269.39L82.97 269.39Z" fill="#000"/>
<text transform="translate(53.47,325.74) scale(0.973,1)" font-size="20">-<tspan visibility="hidden">1</tspan>.2</text><path d="M66.74 325.74L64.99 325.74L64.99 315.64L61.90 315.64L61.90 314.42C64.54 314.10 65.05 313.62 65.59 311.56L66.74 311.56Z" fill="#000"/>
<text transform="translate(53.47,367.90) scale(0.973,1)" font-size="20">-<tspan visibility="hidden">1</tspan>.4</text><path d="M66.74 367.90L64.99 367.90L64.99 357.80L61.90 357.80L61.90 356.58C64.54 356.26 65.05 355.78 65.59 353.72L66.74 353.72Z" fill="#000"/>
<text transform="translate(83.50,389.80) scale(0.973,1)" font-size="20"><tspan visibility="hidden">1</tspan>0<tspan font-size="16" dy="-9.8">0</tspan></text><path d="M90.29 389.80L88.54 389.80L88.54 379.70L85.45 379.70L85.45 378.48C88.09 378.16 88.60 377.68 89.15 375.62L90.29 375.62Z" fill="#000"/>
<text transform="translate(236.28,389.80) scale(0.973,1)" font-size="20"><tspan visibility="hidden">1</tspan>0<tspan font-size="16" dy="-9.8">-<tspan visibility="hidden">1</tspan></tspan></text><path d="M243.07 389.80L241.32 389.80L241.32 379.70L238.22 379.70L238.22 378.48C240.87 378.16 241.38 377.68 241.92 375.62L243.07 375.62Z" fill="#000"/><path d="M268.53 380.00L267.13 380.00L267.13 371.92L264.66 371.92L264.66 370.94C266.77 370.69 267.18 370.30 267.62 368.66L268.53 368.66Z" fill="#000"/>
<text transform="translate(391.64,389.80) scale(0.973,1)" font-size="20"><tspan visibility="hidden">1</tspan>0<tspan font-size="16" dy="-9.8">-2</tspan></text><path d="M398.44 389.80L396.68 389.80L396.68 379.70L393.59 379.70L393.59 378.48C396.24 378.16 396.74 377.68 397.29 375.62L398.44 375.62Z" fill="#000"/>
<text transform="translate(547.01,389.80) scale(0.973,1)" font-size="20"><tspan visibility="hidden">1</tspan>0<tspan font-size="16" dy="-9.8">-3</tspan></text><path d="M553.80 389.80L552.05 389.80L552.05 379.70L548.96 379.70L548.96 378.48C551.60 378.16 552.11 377.68 552.65 375.62L553.80 375.62Z" fill="#000"/>
<text transform="translate(326.59,417.10) scale(0.973,1)" font-size="20">a</text>
<text transform="translate(27,192.7) rotate(-90) scale(0.973,1)" font-size="20" text-anchor="middle">w(a)</text>
</svg></body></html>
